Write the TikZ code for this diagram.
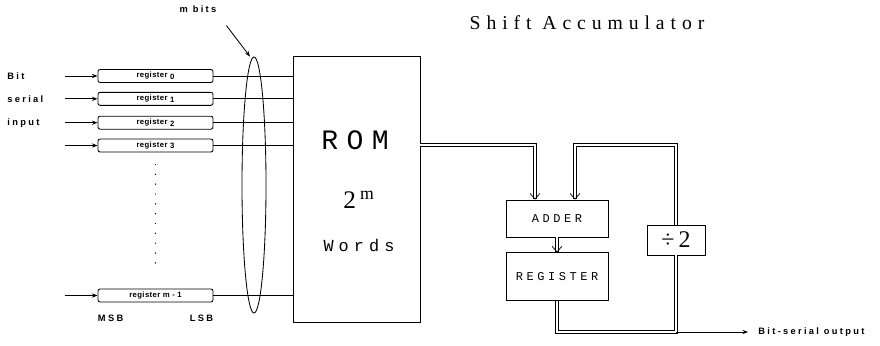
\documentclass[tikz,border=0pt]{standalone}
\usepackage{fontspec}
\setmainfont{Liberation Serif}
\setsansfont{Liberation Sans}
\setmonofont{Liberation Mono}
\newfontfamily\titlefont[LetterSpace=30]{Liberation Serif}
\newfontfamily\boxfont[LetterSpace=30]{Liberation Mono}
\newfontfamily\tagfont[LetterSpace=25]{Liberation Sans}
\newfontfamily\regfont[LetterSpace=5]{Liberation Sans}
\usetikzlibrary{arrows.meta, positioning, calc, shapes.geometric}

\begin{document}
\begin{tikzpicture}[x=0.025cm, y=-0.025cm, line width=0.6pt,
    >={Stealth[length=4pt, width=3pt]},
    tag/.style={font=\tagfont\bfseries\fontsize{6.6}{7}\selectfont, inner sep=0pt},
    regbox/.style={draw, rounded corners=1.5pt, minimum width=2.875cm,
      minimum height=0.325cm, inner sep=0pt,
      font=\regfont\bfseries\fontsize{5.5}{6}\selectfont},
    unit/.style={draw, minimum width=2.55cm, inner sep=0pt,
      font=\boxfont\fontsize{8.5}{10}\selectfont},
    dbl/.style={double, double distance=1.8pt, line width=0.5pt},
    dblarrow/.style={dbl, -{Straight Barb[length=4pt, width=7pt]}}]
  \useasboundingbox (0,0) rectangle (880,346);

  \node[font=\titlefont\fontsize{14}{16}\selectfont] (title) at (587,23) {Shift Accumulator};

  % shift registers
  \node[regbox] (r0) at (155.5,76) {register \raisebox{-1pt}{0}};
  \node[regbox, below=0.225cm of r0] (r1) {register \raisebox{-1pt}{1}};
  \node[regbox, below=0.25cm of r1] (r2) {register \raisebox{-1pt}{2}};
  \node[regbox, below=0.225cm of r2] (r3) {register \raisebox{-1pt}{3}};
  \node[regbox] (rm1) at (155.5,295.5) {register m - 1};
  \node[tag, below=0.3cm of rm1.south west, anchor=north west] (msb) {MSB};
  \node[tag, below=0.3cm of rm1.south east, anchor=north east] (lsb) {LSB};
  \draw[line width=1pt, line cap=round, dash pattern=on 0pt off 7pt]
    ([yshift=-0.3cm]r3.south) -- ([yshift=0.55cm]rm1.north);

  \foreach \r in {r0, r1, r2, r3, rm1} {
    \coordinate[left=0.825cm of \r.west] (in\r);
    \draw[->] (in\r) -- (\r.west);
  }
  \node[tag, anchor=west] (lbit) at (7,0 |- r0) {Bit};
  \node[tag, anchor=west] (lserial) at (7,0 |- r1) {serial};
  \node[tag, anchor=west] (linput) at (7,0 |- r2) {input};

  % ROM
  \node[draw, minimum width=3.175cm, minimum height=6.65cm] (rom) at (356.5,189) {};
  \node[font=\boxfont\fontsize{20}{22}\selectfont] (romname) at (355,140) {ROM};
  \node[font=\fontsize{18}{20}\selectfont] (romsize) at (359,200) {2\,\textsuperscript{m}};
  \node[font=\boxfont\fontsize{12}{14}\selectfont] (romwords) at (359,245) {Words};

  \foreach \r in {r0, r1, r2, r3, rm1}
    \draw (\r.east) -- (\r.east -| rom.west);

  \node[draw, ellipse, minimum width=0.6cm, minimum height=6.4cm, inner sep=0pt] (bus) at (254,185) {};
  \node[tag] (mbits) at (198,9) {m bits};
  \draw[->, shorten <=0.4cm] (mbits.south east) -- ([xshift=-0.1cm]bus.north);

  % accumulator
  \node[unit, minimum height=0.925cm] (adder) at (557,218.5) {ADDER};
  \node[unit, minimum height=1.2cm, below=0.375cm of adder] (reg) {REGISTER};
  \node[draw, minimum width=1.45cm, minimum height=0.75cm, inner sep=0pt,
        font=\fontsize{17}{18}\selectfont] (half) at (676,240) {÷\,2};
  \coordinate (tap) at (half.south |- 0,332);

  \draw[dblarrow] (rom.east |- 0,145) -| ([xshift=-0.55cm]adder.north);
  \draw[dblarrow] (adder) -- (reg);
  \draw[dbl] (reg.south) |- (tap) -- (half.south);
  \draw[dblarrow] (half.north) -- (half.north |- 0,145) -| ([xshift=0.45cm]adder.north);

  \node[tag, right=2.05cm of tap, anchor=west] (out) {Bit-serial output};
  \draw[->, shorten >=0.25cm] (tap) -- (out.west);
\end{tikzpicture}
\end{document}
